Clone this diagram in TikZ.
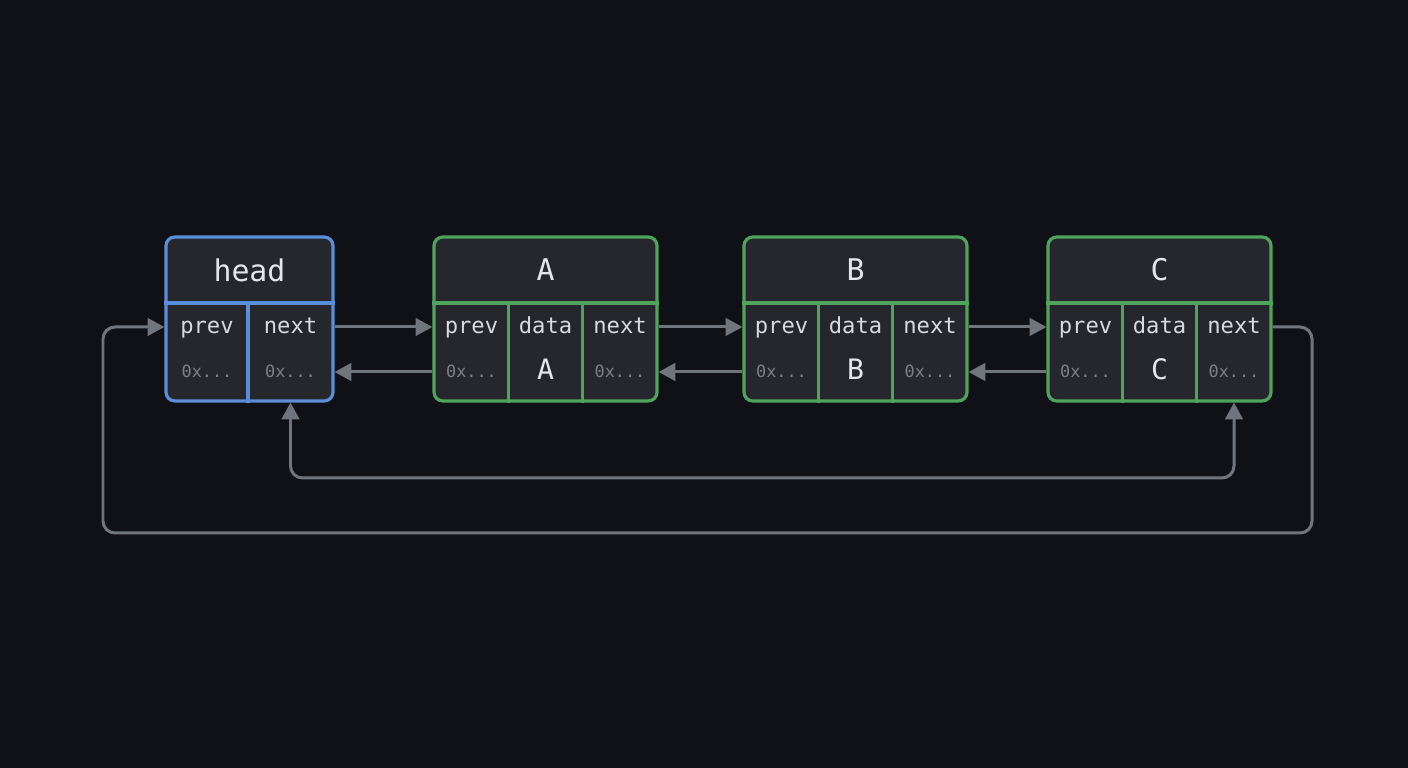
\documentclass[tikz,border=0pt]{standalone}
\usepackage{fontspec}
\setmonofont{DejaVu Sans Mono}
\usetikzlibrary{arrows.meta,calc}
\definecolor{bg}{HTML}{0F1117}
\definecolor{cellfill}{HTML}{25272C}
\definecolor{headblue}{HTML}{5B8ED8}
\definecolor{nodegreen}{HTML}{4FA35A}
\definecolor{linkgray}{HTML}{70757D}
\definecolor{txt}{HTML}{E4E6EA}
\definecolor{addrgray}{HTML}{7C8087}
\tikzset{
  box/.style={draw,line width=0.9pt,rounded corners=2.5pt,fill=cellfill,minimum height=1.64cm,inner sep=0pt},
  divider/.style={line width=0.9pt},
  title/.style={anchor=base,font=\ttfamily\fontsize{8.5}{10}\selectfont,text=txt},
  field/.style={anchor=base,font=\ttfamily\fontsize{6.3}{8}\selectfont,text=txt!88!gray},
  addr/.style={anchor=base,font=\ttfamily\fontsize{4.8}{6}\selectfont,text=addrgray},
  value/.style={anchor=base,font=\ttfamily\fontsize{8}{10}\selectfont,text=txt},
  link/.style={-{Triangle[length=4.8pt,width=5pt]},line width=0.85pt,draw=linkgray,rounded corners=3.4pt}
}
\begin{document}
\begin{tikzpicture}
  \fill[bg] (0,0) rectangle (14.08,7.68);
  % head node
  \node[box,draw=headblue,minimum width=1.67cm] (head) at (2.495,4.49) {};
  \draw[divider,headblue] (head.west |- 0,4.65) -- (head.east |- 0,4.65)
    (2.48,4.65) -- (head.south -| 2.48,0);
  \node[title] (titlehead) at (2.495,4.86) {head};
  \node[field] (prevhead) at (2.07,4.34) {prev};
  \node[addr] (paddrhead) at (2.07,3.90) {0x...};
  \node[field] (nexthead) at (2.905,4.34) {next};
  \node[addr] (naddrhead) at (2.905,3.90) {0x...};
  % list nodes
  \foreach \n/\x in {A/5.455,B/8.555,C/11.595} {
    \node[box,draw=nodegreen,minimum width=2.23cm] (\n) at (\x,4.49) {};
    \draw[divider,nodegreen] (\n.west |- 0,4.65) -- (\n.east |- 0,4.65)
      (\x-0.37,4.65) -- (\n.south -| \x-0.37,0)
      (\x+0.37,4.65) -- (\n.south -| \x+0.37,0);
    \node[title] (title\n) at (\x,4.87) {\n};
    \node[field] (prev\n) at (\x-0.74,4.34) {prev};
    \node[addr] (paddr\n) at (\x-0.74,3.90) {0x...};
    \node[field] (data\n) at (\x,4.34) {data};
    \node[value] (val\n) at (\x,3.88) {\n};
    \node[field] (next\n) at (\x+0.745,4.34) {next};
    \node[addr] (naddr\n) at (\x+0.745,3.90) {0x...};
  }
  % next / prev links
  \foreach \l/\r in {head/A,A/B,B/C} {
    \draw[link] (\l.east |- 0,4.41) -- (\r.west |- 0,4.41);
    \draw[link] (\r.west |- 0,3.96) -- (\l.east |- 0,3.96);
  }
  % wrap-around links
  \coordinate (lowmid) at (7.6,2.90);
  \coordinate (loopR) at (13.12,2.35);
  \coordinate (loopL) at (1.03,2.35);
  \draw[link,{Triangle[length=4.8pt,width=5pt]}-{Triangle[length=4.8pt,width=5pt]}]
    (head.south -| nexthead) |- (lowmid) -| (C.south -| nextC);
  \draw[link] (C.east |- 0,4.41) -| (loopR) -- (loopL) |- (head.west |- 0,4.41);
\end{tikzpicture}
\end{document}
